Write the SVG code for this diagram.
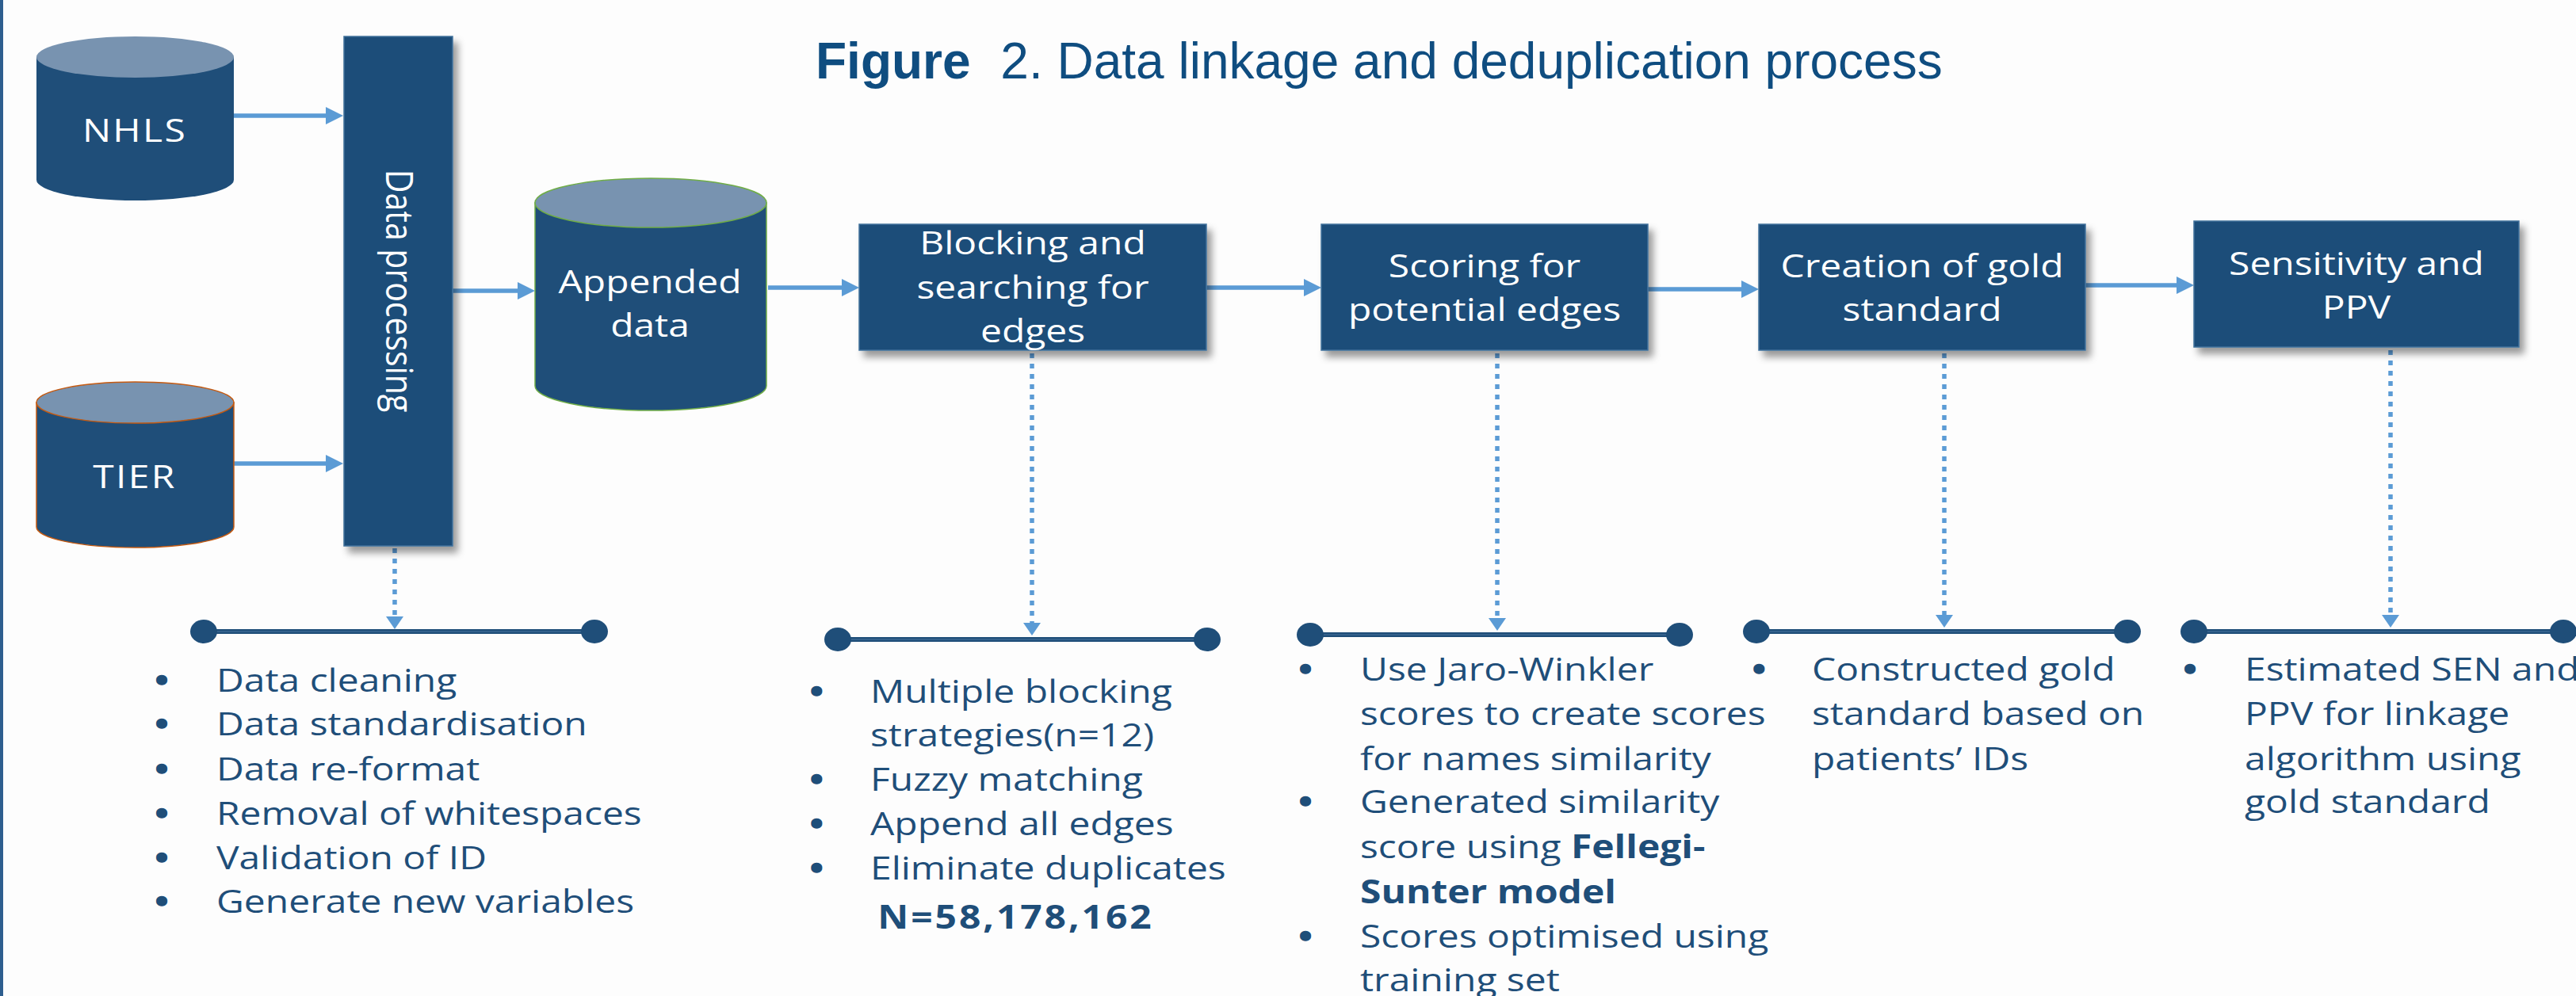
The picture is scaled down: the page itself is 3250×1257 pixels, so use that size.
<svg xmlns="http://www.w3.org/2000/svg" width="3250" height="1257" viewBox="0 0 3250 1257">
<style>
.box{fill:#1f4e79;stroke:#41719c;stroke-width:1.5}
.cyl{fill:#1f4e79}
.cyltop{fill:#7893b0}
.wt{font-family:"Open Sans","Liberation Sans",sans-serif;font-size:41px;fill:#ffffff}
.bt{font-family:"Open Sans","Liberation Sans",sans-serif;font-size:41px;fill:#1f4e79}
.bu{font-family:"Open Sans","Liberation Sans",sans-serif;font-size:41px;fill:#1f4e79;stroke:#1f4e79;stroke-width:3.5;text-anchor:middle}
.b{font-weight:bold}
.arr{stroke:#5b9bd5;stroke-width:5.5;fill:none}
.dot{stroke:#5b9bd5;stroke-width:5.5;fill:none;stroke-dasharray:6 7}
.bar{stroke:#1f4e79;stroke-width:6}
.barhl{stroke:#4a74a0;stroke-width:1.2}
.end{fill:#1f4e79}
</style>
<defs>
<marker id="ah" markerUnits="userSpaceOnUse" markerWidth="24" markerHeight="22" refX="2" refY="11" orient="auto">
<path d="M0,0 L22,11 L0,22 Z" fill="#5b9bd5"/>
</marker>
<marker id="dh" markerUnits="userSpaceOnUse" markerWidth="18" markerHeight="22" refX="2" refY="11" orient="auto">
<path d="M0,0 L16,11 L0,22 Z" fill="#5b9bd5"/>
</marker>
<filter id="sh" x="-10%" y="-10%" width="130%" height="140%">
<feDropShadow dx="6" dy="8" stdDeviation="5" flood-color="#000" flood-opacity="0.4"/>
</filter>
</defs>
<rect x="0" y="0" width="3250" height="1257" fill="#fdfdfd"/>
<rect x="0" y="0" width="4" height="1257" fill="#2e5e8e"/>

<text x="1029" y="99" font-family="'Liberation Sans',Arial,sans-serif" font-size="64" fill="#0f4d80"><tspan font-weight="bold">Figure</tspan><tspan dx="20"> 2. Data linkage and deduplication process</tspan></text>

<g id="connectors">
<line class="arr" x1="295" y1="146" x2="413" y2="146" marker-end="url(#ah)"/>
<line class="arr" x1="295" y1="585" x2="413" y2="585" marker-end="url(#ah)"/>
<line class="arr" x1="571" y1="367" x2="655" y2="367" marker-end="url(#ah)"/>
<line class="arr" x1="969" y1="363" x2="1064" y2="363" marker-end="url(#ah)"/>
<line class="arr" x1="1522" y1="363" x2="1647" y2="363" marker-end="url(#ah)"/>
<line class="arr" x1="2079" y1="365" x2="2199" y2="365" marker-end="url(#ah)"/>
<line class="arr" x1="2631" y1="360" x2="2748" y2="360" marker-end="url(#ah)"/>
<line class="dot" x1="498" y1="692" x2="498" y2="780" marker-end="url(#dh)"/>
<line class="dot" x1="1302" y1="446" x2="1302" y2="788" marker-end="url(#dh)"/>
<line class="dot" x1="1889" y1="446" x2="1889" y2="782" marker-end="url(#dh)"/>
<line class="dot" x1="2453" y1="446" x2="2453" y2="778" marker-end="url(#dh)"/>
<line class="dot" x1="3016" y1="442" x2="3016" y2="778" marker-end="url(#dh)"/>
</g>

<g id="nhls">
<path class="cyl" d="M46,72 V227 A124.5,26 0 0 0 295,227 V72 Z"/>
<ellipse class="cyltop" cx="170.5" cy="72" rx="124.5" ry="26"/>
<g transform="translate(170,0) scale(1.17,1)"><text class="wt" x="0" y="179" text-anchor="middle" letter-spacing="2">NHLS</text></g>
</g>

<g id="tier">
<path class="cyl" d="M46,508 V665 A124.5,26 0 0 0 295,665 V508 Z" stroke="#c55a11" stroke-width="1.5"/>
<ellipse class="cyltop" cx="170.5" cy="508" rx="124.5" ry="26" stroke="#c55a11" stroke-width="1.5"/>
<g transform="translate(170,0) scale(1.17,1)"><text class="wt" x="0" y="616" text-anchor="middle" letter-spacing="2">TIER</text></g>
</g>

<g id="data-processing">
<rect class="box" x="434" y="46" width="137" height="643" filter="url(#sh)"/>
<text class="wt" transform="translate(487,367) rotate(90) scale(1,1.17)" x="0" y="0" text-anchor="middle">Data processing</text>
</g>

<g id="appended">
<path class="cyl" d="M675,256 V487 A146,31 0 0 0 967,487 V256 Z" stroke="#70ad47" stroke-width="1.5"/>
<ellipse class="cyltop" cx="821" cy="256" rx="146" ry="31" stroke="#70ad47" stroke-width="1.5"/>
<g transform="translate(820,0) scale(1.17,1)">
<text class="wt" x="0" y="370" text-anchor="middle">Appended</text>
<text class="wt" x="0" y="425" text-anchor="middle">data</text>
</g>
</g>

<g id="blocking">
<rect class="box" x="1084" y="283" width="438" height="159" filter="url(#sh)"/>
<g transform="translate(1303,0) scale(1.17,1)">
<text class="wt" x="0" y="321" text-anchor="middle">Blocking and</text>
<text class="wt" x="0" y="377" text-anchor="middle">searching for</text>
<text class="wt" x="0" y="432" text-anchor="middle">edges</text>
</g>
</g>

<g id="scoring">
<rect class="box" x="1667" y="283" width="412" height="159" filter="url(#sh)"/>
<g transform="translate(1873,0) scale(1.17,1)">
<text class="wt" x="0" y="350" text-anchor="middle">Scoring for</text>
<text class="wt" x="0" y="405" text-anchor="middle">potential edges</text>
</g>
</g>

<g id="creation">
<rect class="box" x="2219" y="283" width="412" height="159" filter="url(#sh)"/>
<g transform="translate(2425,0) scale(1.17,1)">
<text class="wt" x="0" y="350" text-anchor="middle">Creation of gold</text>
<text class="wt" x="0" y="405" text-anchor="middle">standard</text>
</g>
</g>

<g id="sensitivity">
<rect class="box" x="2768" y="279" width="410" height="159" filter="url(#sh)"/>
<g transform="translate(2973,0) scale(1.17,1)">
<text class="wt" x="0" y="347" text-anchor="middle">Sensitivity and</text>
<text class="wt" x="0" y="402" text-anchor="middle">PPV</text>
</g>
</g>

<g id="bar1">
<line class="bar" x1="257" y1="797" x2="750" y2="797"/>
<line class="barhl" x1="257" y1="797" x2="750" y2="797"/>
<ellipse class="end" cx="257" cy="797" rx="17" ry="15"/>
<ellipse class="end" cx="750" cy="797" rx="17" ry="15"/>
</g>
<g id="bar2">
<line class="bar" x1="1057" y1="807" x2="1523" y2="807"/>
<line class="barhl" x1="1057" y1="807" x2="1523" y2="807"/>
<ellipse class="end" cx="1057" cy="807" rx="17" ry="15"/>
<ellipse class="end" cx="1523" cy="807" rx="17" ry="15"/>
</g>
<g id="bar3">
<line class="bar" x1="1653" y1="801" x2="2119" y2="801"/>
<line class="barhl" x1="1653" y1="801" x2="2119" y2="801"/>
<ellipse class="end" cx="1653" cy="801" rx="17" ry="15"/>
<ellipse class="end" cx="2119" cy="801" rx="17" ry="15"/>
</g>
<g id="bar4">
<line class="bar" x1="2216" y1="797" x2="2684" y2="797"/>
<line class="barhl" x1="2216" y1="797" x2="2684" y2="797"/>
<ellipse class="end" cx="2216" cy="797" rx="17" ry="15"/>
<ellipse class="end" cx="2684" cy="797" rx="17" ry="15"/>
</g>
<g id="bar5">
<line class="bar" x1="2768" y1="797" x2="3234" y2="797"/>
<line class="barhl" x1="2768" y1="797" x2="3234" y2="797"/>
<ellipse class="end" cx="2768" cy="797" rx="17" ry="15"/>
<ellipse class="end" cx="3234" cy="797" rx="17" ry="15"/>
</g>

<g id="list1" transform="translate(273,0) scale(1.17,1)">
<text class="bu" x="-59" y="873">•</text><text class="bt" x="0" y="873">Data cleaning</text>
<text class="bu" x="-59" y="928">•</text><text class="bt" x="0" y="928">Data standardisation</text>
<text class="bu" x="-59" y="985">•</text><text class="bt" x="0" y="985">Data re-format</text>
<text class="bu" x="-59" y="1041">•</text><text class="bt" x="0" y="1041">Removal of whitespaces</text>
<text class="bu" x="-59" y="1097">•</text><text class="bt" x="0" y="1097">Validation of ID</text>
<text class="bu" x="-59" y="1152">•</text><text class="bt" x="0" y="1152">Generate new variables</text>
</g>

<g id="list2" transform="translate(1098,0) scale(1.17,1)">
<text class="bu" x="-58" y="887">•</text><text class="bt" x="0" y="887">Multiple blocking</text>
<text class="bt" x="0" y="942">strategies(n=12)</text>
<text class="bu" x="-58" y="998">•</text><text class="bt" x="0" y="998">Fuzzy matching</text>
<text class="bu" x="-58" y="1054">•</text><text class="bt" x="0" y="1054">Append all edges</text>
<text class="bu" x="-58" y="1110">•</text><text class="bt" x="0" y="1110">Eliminate duplicates</text>
<text class="bt b" x="8" y="1172" letter-spacing="2.5">N=58,178,162</text>
</g>

<g id="list3" transform="translate(1716,0) scale(1.17,1)">
<text class="bu" x="-59" y="859">•</text><text class="bt" x="0" y="859">Use Jaro-Winkler</text>
<text class="bt" x="0" y="915">scores to create scores</text>
<text class="bt" x="0" y="972">for names similarity</text>
<text class="bu" x="-59" y="1026">•</text><text class="bt" x="0" y="1026">Generated similarity</text>
<text class="bt" x="0" y="1083">score using <tspan class="b">Fellegi-</tspan></text>
<text class="bt b" x="0" y="1140">Sunter model</text>
<text class="bu" x="-59" y="1196">•</text><text class="bt" x="0" y="1196">Scores optimised using</text>
<text class="bt" x="0" y="1251">training set</text>
</g>

<g id="list4" transform="translate(2286,0) scale(1.17,1)">
<text class="bu" x="-57" y="859">•</text><text class="bt" x="0" y="859">Constructed gold</text>
<text class="bt" x="0" y="915">standard based on</text>
<text class="bt" x="0" y="972">patients’ IDs</text>
</g>

<g id="list5" transform="translate(2832,0) scale(1.17,1)">
<text class="bu" x="-59" y="859">•</text><text class="bt" x="0" y="859">Estimated SEN and</text>
<text class="bt" x="0" y="915">PPV for linkage</text>
<text class="bt" x="0" y="972">algorithm using</text>
<text class="bt" x="0" y="1026">gold standard</text>
</g>
</svg>
